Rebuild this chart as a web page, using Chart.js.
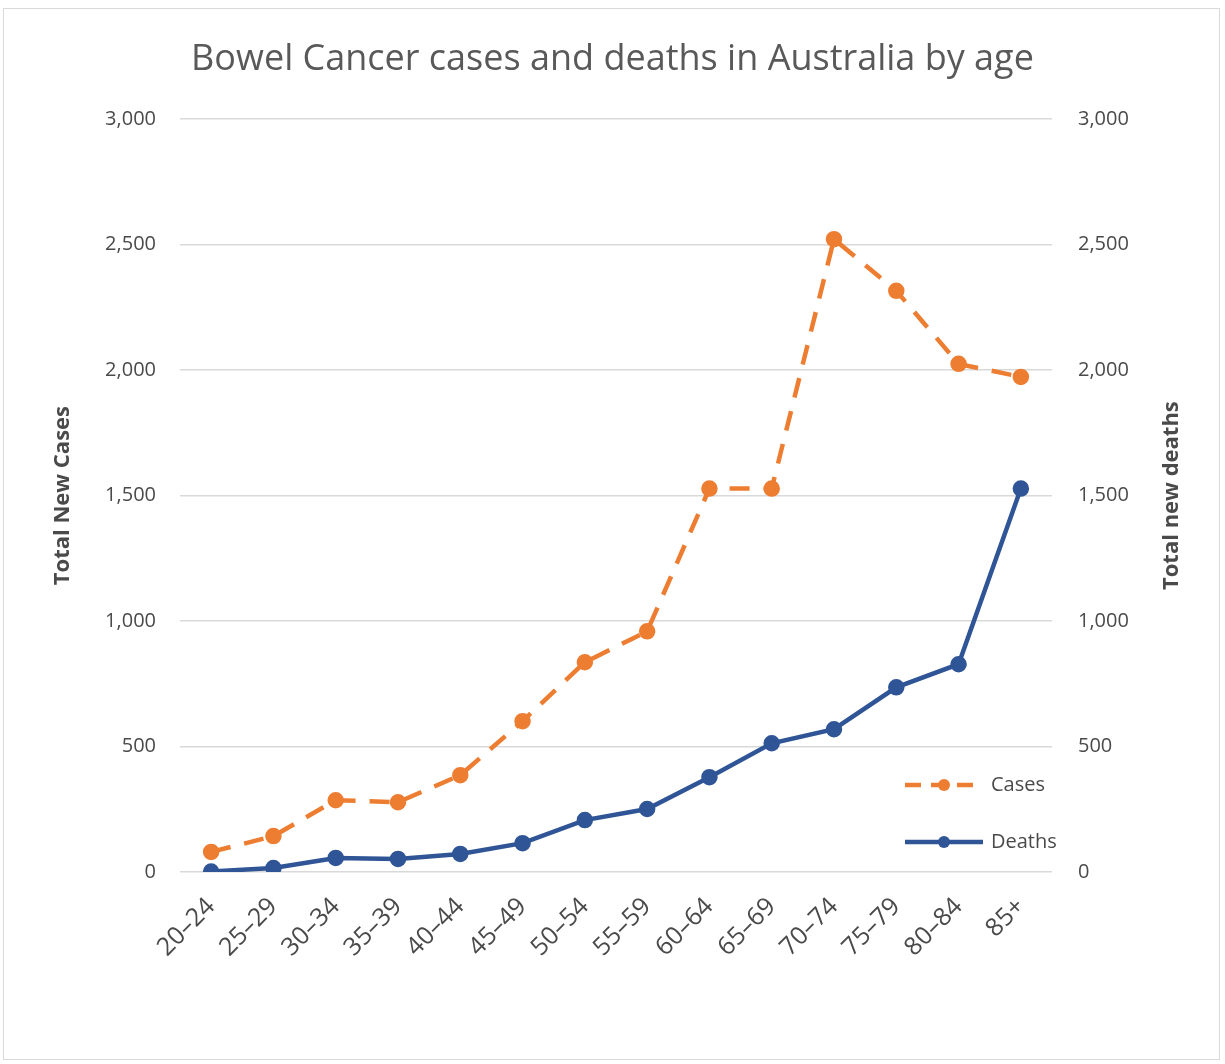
<!DOCTYPE html>
<html lang="en">
<head>
  <meta charset="UTF-8" />
  <title>Bowel Cancer cases and deaths in Australia by age</title>
  <script src="https://cdn.jsdelivr.net/npm/chart.js"></script>
  <style>
    body {
      margin: 0;
      background: #fff;
      font-family: "Open Sans", Arial;
    }
    #frame {
      position: absolute;
      left: 3px;
      top: 8px;
      width: 1215px;
      height: 1050px;
      border: 1px solid #d9d9d9;
    }
    #wrap {
      position: absolute;
      left: 0;
      top: 0;
      width: 1225px;
      height: 1064px;
    }
  </style>
</head>
<body>
  <div id="frame"></div>
  <div id="wrap"><canvas id="chart" width="1225" height="1064"></canvas></div>

  <script>
    const ageGroups = ["20–24", "25–29", "30–34", "35–39", "40–44", "45–49", "50–54",
                       "55–59", "60–64", "65–69", "70–74", "75–79", "80–84", "85+"];
    const casesData = [80, 143, 286, 278, 386, 601, 836, 959, 1528, 1528, 2522, 2316, 2025, 1973];
    const deathsData = [2, 16, 56, 52, 72, 115, 207, 251, 378, 513, 569, 736, 828, 1528];
    const axisTicks = [0, 500, 1000, 1500, 2000, 2500, 3000];

    const orange = "#ED7D31";
    const navy = "#2F5597";
    const tickColor = "#4a4a4a";

    // legend drawn inside the plot, lower right
    const insideLegend = {
      id: "insideLegend",
      afterDatasetsDraw(chart) {
        const ctx = chart.ctx;
        const area = chart.chartArea;
        const items = chart.data.datasets;
        const x0 = area.right - 147;
        let y = area.bottom - 87;
        ctx.save();
        items.forEach(ds => {
          ctx.strokeStyle = ds.borderColor;
          ctx.lineWidth = ds.borderWidth;
          ctx.setLineDash(ds.borderDash ? [16, 10] : []);
          ctx.beginPath();
          ctx.moveTo(x0, y);
          ctx.lineTo(x0 + 78, y);
          ctx.stroke();
          ctx.setLineDash([]);
          ctx.fillStyle = ds.pointBackgroundColor;
          ctx.beginPath();
          ctx.arc(x0 + 39, y, 6, 0, Math.PI * 2);
          ctx.fill();
          ctx.fillStyle = tickColor;
          ctx.font = "20px 'Open Sans'";
          ctx.textBaseline = "middle";
          ctx.fillText(ds.label, x0 + 86, y);
          y += 57;
        });
        ctx.restore();
      }
    };

    // right axis title, reading bottom to top like the left one
    const rightTitle = {
      id: "rightTitle",
      afterDraw(chart) {
        const ctx = chart.ctx;
        const s = chart.scales.y1;
        ctx.save();
        ctx.translate(s.right - 53, (s.top + s.bottom) / 2);
        ctx.rotate(-Math.PI / 2);
        ctx.fillStyle = tickColor;
        ctx.font = "bold 22px 'Open Sans'";
        ctx.textAlign = "center";
        ctx.textBaseline = "middle";
        ctx.fillText("Total new deaths", 0, 0);
        ctx.restore();
      }
    };

    new Chart(document.getElementById("chart"), {
      type: "line",
      data: {
        labels: ageGroups,
        datasets: [
          {
            label: "Cases",
            data: casesData,
            yAxisID: "y",
            borderColor: orange,
            backgroundColor: orange,
            pointBackgroundColor: orange,
            pointBorderColor: orange,
            borderWidth: 4.5,
            borderDash: [20, 14],
            pointRadius: 6,
            tension: 0
          },
          {
            label: "Deaths",
            data: deathsData,
            yAxisID: "y1",
            borderColor: navy,
            backgroundColor: navy,
            pointBackgroundColor: navy,
            pointBorderColor: navy,
            borderWidth: 4.5,
            pointRadius: 6,
            tension: 0
          }
        ]
      },
      options: {
        responsive: false,
        animation: false,
        layout: { padding: { top: 38, left: 0, right: 0, bottom: 0 } },
        plugins: {
          legend: { display: false },
          tooltip: { enabled: false },
          title: {
            display: true,
            text: "Bowel Cancer cases and deaths in Australia by age",
            color: "#595959",
            font: { family: "Open Sans", size: 36, weight: "normal" },
            padding: { top: 0, bottom: 38 }
          }
        },
        scales: {
          x: {
            offset: true,
            grid: { display: false, drawTicks: false },
            border: { display: false },
            ticks: {
              color: tickColor,
              font: { family: "Open Sans", size: 25 },
              minRotation: 45,
              maxRotation: 45,
              padding: 20
            },
            afterFit(scale) { scale.height = 192; }
          },
          y: {
            position: "left",
            min: 0,
            max: 3000,
            afterBuildTicks(scale) { scale.ticks = axisTicks.map(v => ({ value: v })); },
            grid: { color: "#d9d9d9", lineWidth: 1.5, drawTicks: false },
            border: { display: false },
            ticks: {
              color: tickColor,
              font: { family: "Open Sans", size: 20 },
              padding: 24,
              callback: v => v.toLocaleString("en-US")
            },
            title: {
              display: true,
              text: "Total New Cases",
              color: tickColor,
              font: { family: "Open Sans", size: 22, weight: "bold" },
              padding: { top: 50, bottom: 0 }
            },
            afterFit(scale) { scale.width = 180; }
          },
          y1: {
            position: "right",
            min: 0,
            max: 3000,
            afterBuildTicks(scale) { scale.ticks = axisTicks.map(v => ({ value: v })); },
            grid: { display: false, drawTicks: false },
            border: { display: false },
            ticks: {
              color: tickColor,
              font: { family: "Open Sans", size: 20 },
              padding: 26,
              callback: v => v.toLocaleString("en-US")
            },
            afterFit(scale) { scale.width = 173; }
          }
        }
      },
      plugins: [insideLegend, rightTitle]
    });
  </script>
</body>
</html>
